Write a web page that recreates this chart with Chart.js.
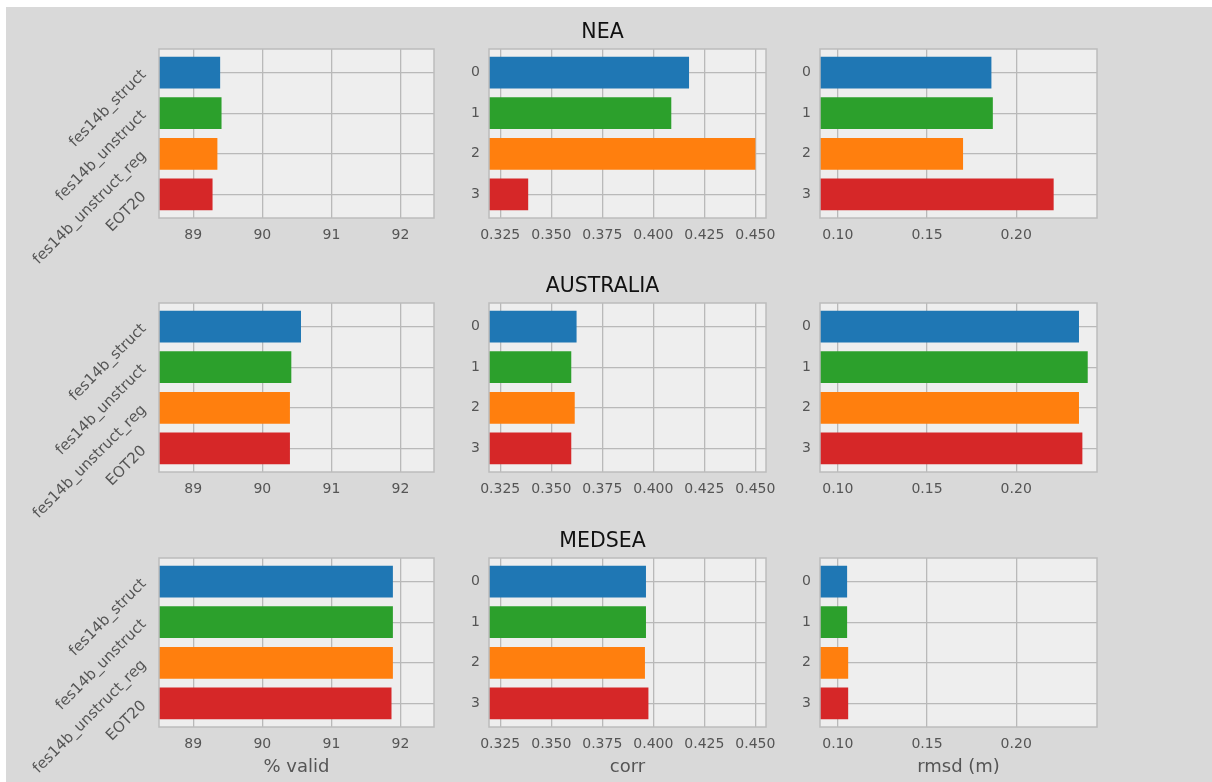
<!DOCTYPE html>
<html>
<head>
<meta charset="utf-8">
<script src="https://cdn.jsdelivr.net/npm/chart.js@4.4.1/dist/chart.umd.min.js"></script>
<style>
  html, body { margin: 0; padding: 0; background: #ffffff; overflow: hidden; width: 1212px; height: 782px; }
  #fig { position: absolute; left: 6px; top: 7px; width: 1206px; height: 775px; background: #d9d9d9; }
  .panel { position: absolute; }
  .panel canvas { display: block; }
</style>
</head>
<body>
<div id="fig"></div>
<script>
// ---------------- DATA ----------------
const models = ['fes14b_struct', 'fes14b_unstruct', 'fes14b_unstruct_reg', 'EOT20'];
const indexLabels = ['0', '1', '2', '3'];
const regions = ['NEA', 'AUSTRALIA', 'MEDSEA'];
const metricLabels = ['% valid', 'corr', 'rmsd (m)'];

const validPct_NEA       = [89.39, 89.41, 89.35, 89.28];
const validPct_AUSTRALIA = [90.56, 90.42, 90.40, 90.40];
const validPct_MEDSEA    = [91.89, 91.89, 91.89, 91.87];

const corr_NEA       = [0.4175, 0.4088, 0.4500, 0.3387];
const corr_AUSTRALIA = [0.3624, 0.3598, 0.3615, 0.3598];
const corr_MEDSEA    = [0.3964, 0.3964, 0.3959, 0.3976];

const rmsd_NEA       = [0.1861, 0.1869, 0.1702, 0.2210];
const rmsd_AUSTRALIA = [0.2352, 0.2401, 0.2352, 0.2371];
const rmsd_MEDSEA    = [0.1052, 0.1052, 0.1058, 0.1058];

// x-axis ranges and tick steps per metric column
const xMin  = [88.505, 0.3195, 0.09];
const xMax  = [92.485, 0.4552, 0.2453];
const xStep = [1, 0.025, 0.05];
const xDecimals = [0, 3, 2];

// ---------------- STYLE / LAYOUT ----------------
const barColors = ['#1f77b4', '#2ca02c', '#ff7f0e', '#d62728'];
const FONT = "'DejaVu Sans', 'Liberation Sans', sans-serif";
const plotLeft  = [159, 489, 820];
const plotWidth = [275, 277, 277];
const plotTop   = [49, 303, 558];
const plotHeight = 169;
const TOP_SPACE = 40;
const X_AXIS_H = 60;
const RIGHT_PAD = 20;

const dataGrid = [
  [validPct_NEA, corr_NEA, rmsd_NEA],
  [validPct_AUSTRALIA, corr_AUSTRALIA, rmsd_AUSTRALIA],
  [validPct_MEDSEA, corr_MEDSEA, rmsd_MEDSEA]
];

const framePlugin = {
  id: 'frame',
  beforeDraw(chart) {
    const {ctx, chartArea: a} = chart;
    ctx.save();
    ctx.fillStyle = '#eeeeee';
    ctx.fillRect(a.left, a.top, a.right - a.left, a.bottom - a.top);
    ctx.restore();
  },
  afterDatasetsDraw(chart) {
    const {ctx, chartArea: a} = chart;
    ctx.save();
    ctx.strokeStyle = '#bcbcbc';
    ctx.lineWidth = 1.5;
    ctx.strokeRect(a.left, a.top, a.right - a.left, a.bottom - a.top);
    ctx.restore();
  }
};

for (let r = 0; r < 3; r++) {
  for (let c = 0; c < 3; c++) {
    const yW = c === 0 ? 159 : 50;
    const left = plotLeft[c] - yW;
    const top = plotTop[r] - TOP_SPACE;
    const width = yW + plotWidth[c] + RIGHT_PAD;
    const height = TOP_SPACE + plotHeight + X_AXIS_H;

    const div = document.createElement('div');
    div.className = 'panel';
    div.style.left = left + 'px';
    div.style.top = top + 'px';
    div.style.width = width + 'px';
    div.style.height = height + 'px';
    const cv = document.createElement('canvas');
    cv.width = width; cv.height = height;
    cv.style.width = width + 'px'; cv.style.height = height + 'px';
    div.appendChild(cv);
    document.body.appendChild(div);

    const values = dataGrid[r][c];
    const yLabels = c === 0 ? models : indexLabels;
    const hasTitle = c === 1;
    const isBottom = r === 2;
    const dec = xDecimals[c];
    const rotated = c === 0;

    new Chart(cv.getContext('2d'), {
      type: 'bar',
      data: {
        datasets: [{
          data: values.map((v, i) => ({x: v, y: i})),
          backgroundColor: barColors,
          borderWidth: 0,
          categoryPercentage: 1,
          barPercentage: 0.78,
          clip: 0
        }]
      },
      options: {
        indexAxis: 'y',
        responsive: false,
        animation: false,
        devicePixelRatio: 1,
        layout: { padding: { top: hasTitle ? 0 : TOP_SPACE, right: RIGHT_PAD, left: 0, bottom: 0 } },
        plugins: {
          legend: { display: false },
          tooltip: { enabled: false },
          title: {
            display: hasTitle,
            text: regions[r],
            color: '#111111',
            font: { family: FONT, size: 20.5, weight: 'normal' },
            padding: { top: 11.7, bottom: 3.7 }
          }
        },
        scales: {
          x: {
            type: 'linear',
            position: 'bottom',
            min: xMin[c],
            max: xMax[c],
            offset: false,
            grid: { color: '#b9b9b9', lineWidth: 1.3, drawTicks: false, offset: false },
            border: { display: false },
            ticks: {
              stepSize: xStep[c],
              includeBounds: false,
              padding: 9,
              color: '#555555',
              font: { family: FONT, size: 14 },
              maxRotation: 0,
              autoSkip: false,
              callback: (v) => Number(v).toFixed(dec)
            },
            title: {
              display: isBottom,
              text: metricLabels[c],
              color: '#555555',
              font: { family: FONT, size: 18 },
              padding: { top: 0, bottom: 9 }
            },
            afterFit(s) { s.height = X_AXIS_H; s.paddingLeft = 0; s.paddingRight = 0; }
          },
          y: {
            type: 'linear',
            reverse: true,
            min: -0.58,
            max: 3.58,
            offset: false,
            grid: { color: '#b9b9b9', lineWidth: 1.3, drawTicks: false, offset: false },
            border: { display: false },
            ticks: {
              stepSize: 1,
              includeBounds: false,
              autoSkip: false,
              padding: rotated ? 15 : 9,
              color: '#555555',
              font: { family: FONT, size: rotated ? 15 : 14 },
              minRotation: rotated ? 45 : 0,
              maxRotation: rotated ? 45 : 0,
              callback: (v) => (Number.isInteger(v) ? yLabels[v] : '')
            },
            afterFit(s) { s.width = yW; s.paddingTop = 0; s.paddingBottom = 0; }
          }
        }
      },
      plugins: [framePlugin]
    });
  }
}
</script>
</body>
</html>
